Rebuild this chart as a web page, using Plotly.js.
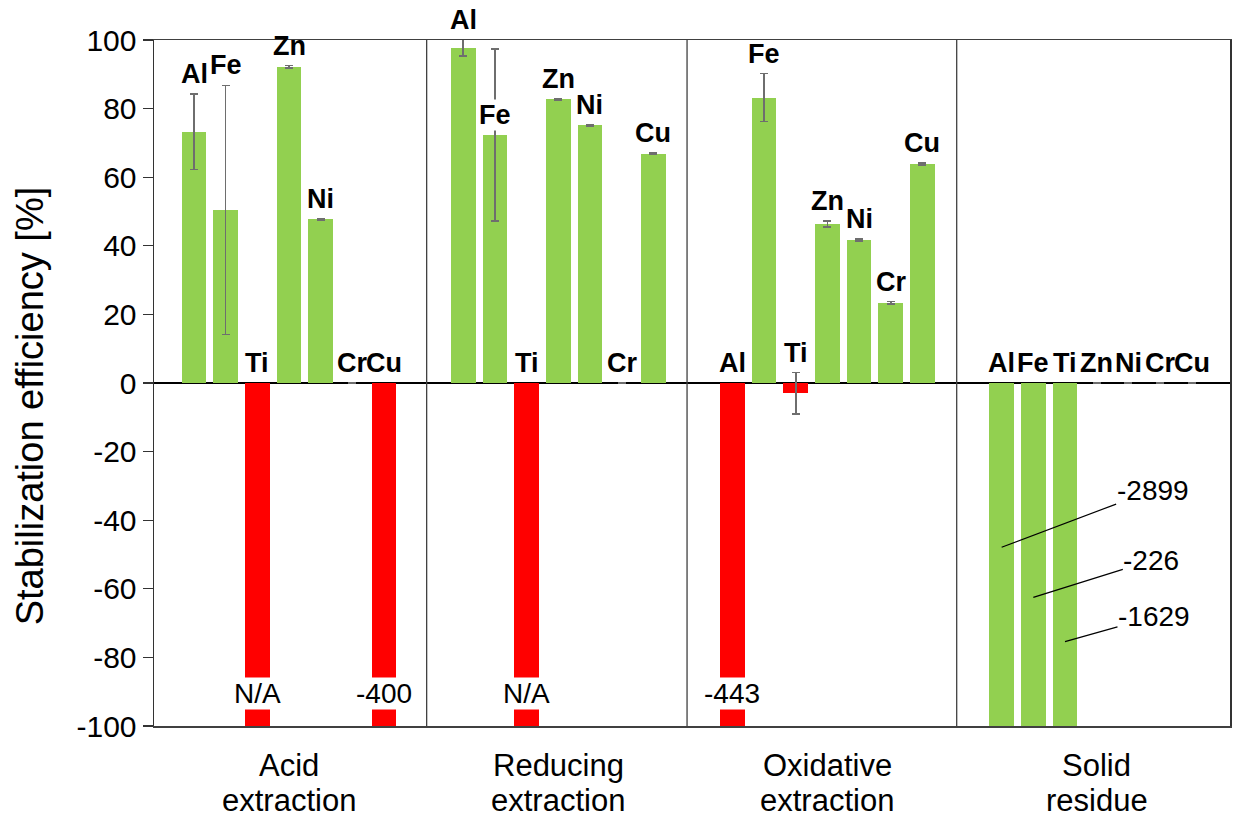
<!DOCTYPE html>
<html>
<head>
<meta charset="utf-8">
<script src="https://cdn.plot.ly/plotly-3.0.1.min.js"></script>
<style>html,body{margin:0;padding:0;background:#fff;}#chart{width:1234px;height:826px;}</style>
</head>
<body>
<div id="chart"></div>
<script>
// ---- data ----
const elements = ["Al", "Fe", "Ti", "Zn", "Ni", "Cr", "Cu"];
const groups = ["Acid<br>extraction", "Reducing<br>extraction", "Oxidative<br>extraction", "Solid<br>residue"];
// null = N/A
const acidValues = [73.2, 50.5, null, 92.2, 47.7, 0, -400];
const acidErrors = [11.0, 36.3, 0, 0.3, 0.2, 0, 0];
const reducingValues = [97.7, 72.3, null, 82.7, 75.1, 0, 66.8];
const reducingErrors = [2.4, 25.1, 0, 0.2, 0.2, 0, 0.2];
const oxidativeValues = [-443, 83.2, -3.0, 46.4, 41.7, 23.4, 63.8];
const oxidativeErrors = [0, 7.0, 6.0, 0.9, 0.3, 0.3, 0.3];
const residueValues = [-2899, -226, -1629, 0, 0, 0, 0];
const residueErrors = [0, 0, 0, 0, 0, 0, 0];
const yTickValues = [-100, -80, -60, -40, -20, 0, 20, 40, 60, 80, 100];
const yTickLabels = ["-100", "-80", "-60", "-40", "-20", "0", "20", "40", "60", "80", "100"];

// ---- styling / layout constants ----
const GREEN = "#92D050", RED = "#FF0000";
const FONT = "Liberation Sans, Arial, sans-serif";
const GROUP_STEP = 8.5;
const Y_RANGE = [-100, 100];
const allValues = [acidValues, reducingValues, oxidativeValues, residueValues];
const allErrors = [acidErrors, reducingErrors, oxidativeErrors, residueErrors];
const residueGroup = 3;

const xs = [], ys = [], errs = [], colors = [];
const annotations = [];
allValues.forEach((vals, g) => {
  vals.forEach((v, i) => {
    const x = g * GROUP_STEP + i;
    const e = allErrors[g][i];
    const drawn = (v === null) ? Y_RANGE[0] * 2 : v;   // N/A bars run off the axis
    xs.push(x); ys.push(drawn); errs.push(e);
    const negative = v === null || v < 0;
    colors.push(negative && g !== residueGroup ? RED : GREEN);

    // element label above the bar (or above zero for negative bars)
    let top = Math.max(drawn + e, 0);
    let bg = null;
    if (g === 1 && elements[i] === "Fe") { top = drawn; bg = "white"; }
    top = Math.min(top, Y_RANGE[1]);
    annotations.push({
      x: x, y: top, xref: "x", yref: "y", text: elements[i], showarrow: false,
      yanchor: "bottom", xanchor: "center", yshift: 4, borderpad: 0,
      bgcolor: bg || "rgba(0,0,0,0)",
      font: {family: FONT, size: 27, color: "#000", weight: "bold"}
    });

    // value labels for bars running off the axis
    if (g !== residueGroup && (v === null || v < Y_RANGE[0])) {
      annotations.push({
        x: x, y: -90.4, xref: "x", yref: "y", text: v === null ? "N/A" : String(v),
        showarrow: false, bgcolor: "white", borderpad: 0,
        font: {family: FONT, size: 28, color: "#000"}
      });
    }
  });
});

// leader-line labels for the solid residue bars
const leaderTips = [-47.9, -62.5, -75.4];
const leaderOffsets = [[151, -57], [118, -37], [89, -25]];
residueValues.forEach((v, i) => {
  if (v < Y_RANGE[0]) {
    annotations.push({
      x: residueGroup * GROUP_STEP + i, y: leaderTips[i], xref: "x", yref: "y",
      text: String(v), showarrow: true, arrowhead: 0, arrowwidth: 1.2, arrowcolor: "#000",
      ax: leaderOffsets[i][0], ay: leaderOffsets[i][1],
      font: {family: FONT, size: 28, color: "#000"}, borderpad: 0
    });
  }
});

// category labels (two lines, tighter spacing than tick labels allow)
const catLineY = [-0.0583, -0.1093];
groups.forEach((label, g) => {
  label.split("<br>").forEach((line, k) => {
    annotations.push({
      xref: "x", yref: "paper", x: g * GROUP_STEP + (elements.length - 1) / 2, y: catLineY[k],
      text: line, showarrow: false, xanchor: "center", yanchor: "middle",
      font: {family: FONT, size: 31, color: "#000"}
    });
  });
});

// y axis title
annotations.push({
  xref: "paper", yref: "paper", x: -0.1152, y: 0.466, text: "Stabilization efficiency [%]",
  textangle: -90, showarrow: false, xanchor: "center", yanchor: "middle",
  font: {family: FONT, size: 38, color: "#000"}
});

const trace = {
  type: "bar", x: xs, y: ys, width: 0.777,
  marker: {color: colors, line: {width: 0}},
  error_y: {type: "data", array: errs, visible: true, color: "#6e6e6e", thickness: 1.5, width: 4},
  cliponaxis: true, hoverinfo: "x+y"
};

const dividerX = [0.2534, 0.4954, 0.7460];
const shapes = dividerX.map(px => ({
  type: "line", xref: "paper", yref: "paper", x0: px, x1: px, y0: 0, y1: 1,
  line: {color: "#404040", width: 1.3}
}));

const layout = {
  width: 1234, height: 826,
  margin: {l: 154, r: 4, t: 40, b: 100},
  paper_bgcolor: "#fff", plot_bgcolor: "#fff",
  showlegend: false, bargap: 0,
  font: {family: FONT, color: "#000"},
  xaxis: {
    range: [-1.263, 32.71], showgrid: false, zeroline: false,
    showline: true, mirror: true, linecolor: "#404040", linewidth: 1.5,
    showticklabels: false, ticks: ""
  },
  yaxis: {
    range: Y_RANGE, tickvals: yTickValues, ticktext: yTickLabels, showgrid: false,
    zeroline: true, zerolinecolor: "#000", zerolinewidth: 1.5,
    showline: true, mirror: true, linecolor: "#333", linewidth: 1.5,
    ticks: "outside", ticklen: 10, tickwidth: 1.3, tickcolor: "#333",
    tickfont: {family: FONT, size: 30, color: "#000"}
  },
  shapes: shapes,
  annotations: annotations
};

Plotly.newPlot("chart", [trace], layout, {displayModeBar: false, staticPlot: true});
</script>
</body>
</html>
